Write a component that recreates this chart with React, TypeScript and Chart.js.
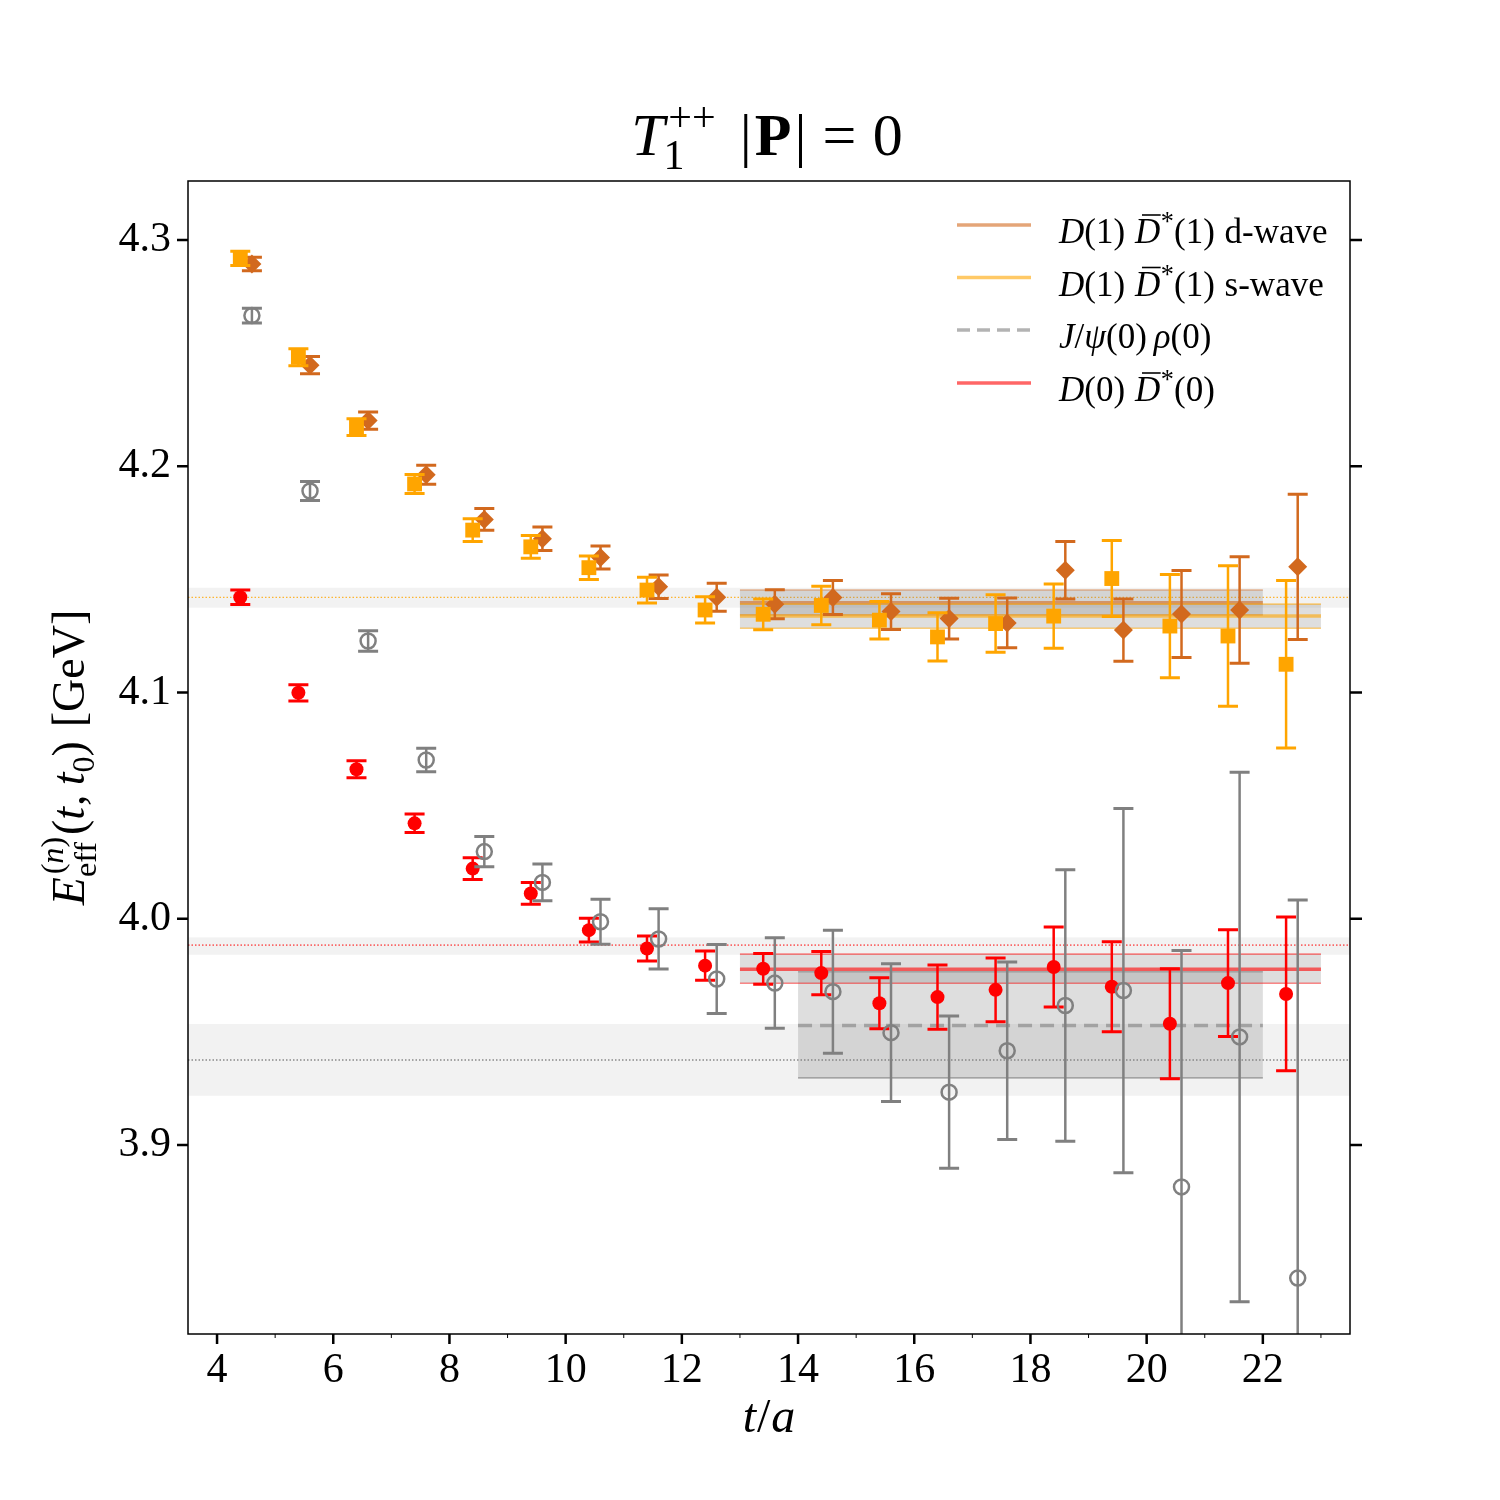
import React, { useEffect, useRef } from "react";
import { Chart, registerables } from "chart.js";

Chart.register(...registerables);

// ---------------- data ----------------
const timeSlices = [4, 5, 6, 7, 8, 9, 10, 11, 12, 13, 14, 15, 16, 17, 18, 19, 20, 21, 22];
const shiftLeft = 0.4;
const shiftRight = 0.6;

// D(1) D*(1) s-wave (orange squares)
const swaveE = [4.2919, 4.2482, 4.2173, 4.1922, 4.1718, 4.1644, 4.1552, 4.1453, 4.1365, 4.1346, 4.1385, 4.132, 4.1246, 4.1305, 4.1338, 4.1504, 4.1294, 4.125, 4.1125];
const swaveErr = [0.0032, 0.0038, 0.0037, 0.0042, 0.005, 0.005, 0.0052, 0.0057, 0.0058, 0.0068, 0.0085, 0.0083, 0.0107, 0.0127, 0.0142, 0.0168, 0.0228, 0.031, 0.037];

// D(1) D*(1) d-wave (chocolate diamonds)
const dwaveE = [4.2894, 4.2447, 4.2202, 4.1963, 4.1765, 4.168, 4.1597, 4.1468, 4.1421, 4.139, 4.142, 4.1358, 4.1327, 4.1308, 4.1541, 4.1276, 4.1347, 4.1365, 4.1556];
const dwaveErr = [0.003, 0.0038, 0.0038, 0.0042, 0.0048, 0.0052, 0.0051, 0.0052, 0.0062, 0.0064, 0.0075, 0.0079, 0.009, 0.011, 0.0127, 0.0138, 0.0192, 0.0235, 0.0321];

// D(0) D*(0) (red filled circles)
const dd0E = [4.1421, 4.0999, 4.0661, 4.0422, 4.0222, 4.0112, 3.995, 3.9869, 3.9793, 3.9779, 3.976, 3.9627, 3.9654, 3.9686, 3.9787, 3.97, 3.9536, 3.9716, 3.9668];
const dd0Err = [0.0032, 0.0036, 0.0038, 0.0041, 0.0048, 0.0048, 0.0052, 0.0055, 0.0065, 0.0068, 0.0096, 0.0113, 0.0142, 0.0141, 0.0177, 0.0199, 0.0243, 0.0236, 0.034];

// J/psi(0) rho(0) (gray open circles)
const jpsiE = [4.2666, 4.1891, 4.1228, 4.0702, 4.0297, 4.0161, 3.9987, 3.9911, 3.9734, 3.9716, 3.9678, 3.9497, 3.9234, 3.9417, 3.9617, 3.9683, 3.8815, 3.9478, 3.8412];
const jpsiErr = [0.0033, 0.0042, 0.0045, 0.0052, 0.0067, 0.0081, 0.0099, 0.0133, 0.0152, 0.02, 0.0272, 0.0304, 0.0336, 0.0392, 0.06, 0.0805, 0.1045, 0.117, 0.1671];

// fits: [tmin, tmax, low, central, high]
const dwaveFit = [13, 22, 4.1343, 4.1397, 4.1453];
const swaveFit = [13, 23, 4.1284, 4.1338, 4.1391];
const jpsiFit = [14, 22, 3.9297, 3.9529, 3.9766];
const dd0Fit = [13, 23, 3.9715, 3.9777, 3.9844];

// non-interacting levels spanning the whole plot: [low, central, high]
const levelOrange = [4.1375, 4.1421, 4.1463];
const levelRed = [3.9841, 3.9884, 3.9918];
const levelGray = [3.9218, 3.9376, 3.9535];

const xTicks = [4, 6, 8, 10, 12, 14, 16, 18, 20, 22];
const xMinorTicks = [5, 7, 9, 11, 13, 15, 17, 19, 21, 23];
const yTicks = [3.9, 4.0, 4.1, 4.2, 4.3];

const xRange = [3.5, 23.5];
const yRange = [3.8165, 4.3261];

// ---------------- colours ----------------
const ORANGE = "#ffa500";
const CHOC = "#d2691e";
const RED = "#ff0000";
const GRAY = "#808080";
const CHOC_A = "rgba(210,105,30,0.6)";
const ORANGE_A = "rgba(255,165,0,0.6)";
const RED_A = "rgba(255,0,0,0.6)";
const GRAY_A = "rgba(128,128,128,0.6)";

const FAMILY = '"Liberation Serif", "DejaVu Serif", serif';

// ---------------- rich text helper ----------------
type Seg = { t: string; f?: "r" | "i" | "b"; s?: number; dy?: number; adv?: boolean; dx?: number; bar?: boolean };

function fontStr(f: string | undefined, size: number) {
  const st = f === "i" ? "italic " : f === "b" ? "bold " : "";
  return `${st}${size}px ${FAMILY}`;
}

function measureRich(ctx: CanvasRenderingContext2D, segs: Seg[], size: number) {
  let w = 0;
  for (const s of segs) {
    ctx.font = fontStr(s.f, size * (s.s ?? 1));
    const m = ctx.measureText(s.t).width;
    if (s.adv !== false) w += m + (s.dx ?? 0) * size;
  }
  return w;
}

function drawRich(ctx: CanvasRenderingContext2D, segs: Seg[], x: number, y: number, size: number, align: "left" | "center") {
  const w = measureRich(ctx, segs, size);
  let cx = align === "center" ? x - w / 2 : x;
  ctx.textAlign = "left";
  ctx.textBaseline = "alphabetic";
  ctx.fillStyle = "#000";
  for (const s of segs) {
    const fs = size * (s.s ?? 1);
    ctx.font = fontStr(s.f, fs);
    const m = ctx.measureText(s.t).width;
    const dx = (s.dx ?? 0) * size;
    const px = cx + dx;
    const py = y - (s.dy ?? 0) * size;
    ctx.fillText(s.t, px, py);
    if (s.bar) {
      ctx.save();
      ctx.strokeStyle = "#000";
      ctx.lineWidth = fs * 0.045;
      ctx.beginPath();
      ctx.moveTo(px + m * 0.28, py - fs * 0.8);
      ctx.lineTo(px + m * 1.02, py - fs * 0.8);
      ctx.stroke();
      ctx.restore();
    }
    if (s.adv !== false) cx += m + dx;
  }
}

const titleSegs: Seg[] = [
  { t: "T", f: "i" },
  { t: "1", s: 0.7, dy: -0.24, adv: false, dx: -0.02 },
  { t: "++", s: 0.7, dy: 0.4, dx: 0.06 },
  { t: "|", dx: 0.4 },
  { t: "P", f: "b", dx: 0.05 },
  { t: "|", dx: 0.05 },
  { t: "=", dx: 0.27 },
  { t: "0", dx: 0.27 },
];

const yLabelSegs: Seg[] = [
  { t: "E", f: "i" },
  { t: "eff", s: 0.7, dy: -0.25, adv: false, dx: 0.0 },
  { t: "(", s: 0.7, dy: 0.45, dx: 0.06 },
  { t: "n", f: "i", s: 0.7, dy: 0.45 },
  { t: ")", s: 0.7, dy: 0.45 },
  { t: "(", dx: 0.04 },
  { t: "t", f: "i" },
  { t: ",", dx: 0.02 },
  { t: "t", f: "i", dx: 0.2 },
  { t: "0", s: 0.7, dy: -0.22 },
  { t: ")" },
  { t: "[GeV]", dx: 0.3 },
];

const xLabelSegs: Seg[] = [
  { t: "t", f: "i" },
  { t: "/", dx: 0.02 },
  { t: "a", f: "i", dx: 0.02 },
];

const legendRows: { segs: Seg[]; color: string; dash: number[] }[] = [
  {
    segs: [
      { t: "D", f: "i" }, { t: "(1)" }, { t: "D", f: "i", bar: true, dx: 0.28 }, { t: "*", s: 0.75, dy: 0.36, dx: 0.02 }, { t: "(1)" }, { t: "d-wave", dx: 0.28 },
    ],
    color: CHOC_A,
    dash: [],
  },
  {
    segs: [
      { t: "D", f: "i" }, { t: "(1)" }, { t: "D", f: "i", bar: true, dx: 0.28 }, { t: "*", s: 0.75, dy: 0.36, dx: 0.02 }, { t: "(1)" }, { t: "s-wave", dx: 0.28 },
    ],
    color: ORANGE_A,
    dash: [],
  },
  {
    segs: [{ t: "J", f: "i" }, { t: "/" }, { t: "ψ", f: "i" }, { t: "(0)" }, { t: "ρ", f: "i", dx: 0.2 }, { t: "(0)" }],
    color: GRAY_A,
    dash: [13, 7],
  },
  {
    segs: [{ t: "D", f: "i" }, { t: "(0)" }, { t: "D", f: "i", bar: true, dx: 0.28 }, { t: "*", s: 0.75, dy: 0.36, dx: 0.02 }, { t: "(0)" }],
    color: RED_A,
    dash: [],
  },
];

// ---------------- plugins ----------------
const errorBarPlugin = {
  id: "errorBars",
  beforeDatasetDraw(chart: any, args: any) {
    const ds = chart.data.datasets[args.index];
    if (!ds.errors) return;
    const { ctx, chartArea: a } = chart;
    const xs = chart.scales.x;
    const ys = chart.scales.y;
    ctx.save();
    ctx.beginPath();
    ctx.rect(a.left, a.top, a.right - a.left, a.bottom - a.top);
    ctx.clip();
    ctx.strokeStyle = ds.errColor;
    ds.data.forEach((p: any, i: number) => {
      const e = ds.errors[i];
      const px = xs.getPixelForValue(p.x);
      const top = ys.getPixelForValue(p.y + e);
      const bot = ys.getPixelForValue(p.y - e);
      ctx.lineWidth = 2.5;
      ctx.beginPath();
      ctx.moveTo(px, top);
      ctx.lineTo(px, bot);
      ctx.stroke();
      ctx.lineWidth = 3;
      ctx.beginPath();
      ctx.moveTo(px - 10, top);
      ctx.lineTo(px + 10, top);
      ctx.moveTo(px - 10, bot);
      ctx.lineTo(px + 10, bot);
      ctx.stroke();
    });
    ctx.restore();
  },
};

function hLine(ctx: CanvasRenderingContext2D, x0: number, x1: number, y: number, color: string, width: number, dash: number[]) {
  ctx.save();
  ctx.strokeStyle = color;
  ctx.lineWidth = width;
  ctx.setLineDash(dash);
  ctx.beginPath();
  ctx.moveTo(x0, y);
  ctx.lineTo(x1, y);
  ctx.stroke();
  ctx.restore();
}

const bandsPlugin = {
  id: "bands",
  beforeDatasetsDraw(chart: any) {
    const { ctx, chartArea: a } = chart;
    const xs = chart.scales.x;
    const ys = chart.scales.y;
    ctx.save();
    ctx.beginPath();
    ctx.rect(a.left, a.top, a.right - a.left, a.bottom - a.top);
    ctx.clip();
    const levels: [number[], string][] = [
      [levelOrange, ORANGE],
      [levelRed, RED],
      [levelGray, "#555"],
    ];
    for (const [lv] of levels) {
      const yt = ys.getPixelForValue(lv[2]);
      const yb = ys.getPixelForValue(lv[0]);
      ctx.fillStyle = "rgba(128,128,128,0.1)";
      ctx.fillRect(a.left, yt, a.right - a.left, yb - yt);
    }
    for (const [lv, col] of levels) {
      hLine(ctx, a.left, a.right, ys.getPixelForValue(lv[1]), col, 1, [1.5, 2]);
    }
    const fits: [number[], string, string, number[]][] = [
      [dwaveFit, CHOC_A, "rgba(210,105,30,0.45)", []],
      [swaveFit, ORANGE_A, "rgba(255,165,0,0.5)", []],
      [jpsiFit, "rgba(128,128,128,0.6)", "rgba(128,128,128,0.6)", [14, 8]],
      [dd0Fit, RED_A, "rgba(255,0,0,0.45)", []],
    ];
    for (const [f, col, edge, dash] of fits) {
      const x0 = xs.getPixelForValue(f[0]);
      const x1 = xs.getPixelForValue(f[1]);
      const yt = ys.getPixelForValue(f[4]);
      const yb = ys.getPixelForValue(f[2]);
      ctx.fillStyle = "rgba(128,128,128,0.26)";
      ctx.fillRect(x0, yt, x1 - x0, yb - yt);
      hLine(ctx, x0, x1, yt, edge, 1.6, []);
      hLine(ctx, x0, x1, yb, edge, 1.6, []);
      hLine(ctx, x0, x1, ys.getPixelForValue(f[3]), col, 3.5, dash);
    }
    ctx.restore();
  },
};

const framePlugin = {
  id: "frame",
  beforeDraw(chart: any) {
    const { ctx, width, height } = chart;
    ctx.save();
    ctx.fillStyle = "#fff";
    ctx.fillRect(0, 0, width, height);
    ctx.restore();
  },
  afterDatasetsDraw(chart: any) {
    const { ctx, chartArea: a } = chart;
    const xs = chart.scales.x;
    const ys = chart.scales.y;
    ctx.save();
    ctx.strokeStyle = "#000";
    ctx.lineWidth = 1.5;
    ctx.strokeRect(a.left, a.top, a.right - a.left, a.bottom - a.top);
    ctx.lineWidth = 2.5;
    ctx.beginPath();
    for (const v of xTicks) {
      const px = xs.getPixelForValue(v);
      ctx.moveTo(px, a.bottom);
      ctx.lineTo(px, a.bottom + 10);
    }
    ctx.stroke();
    ctx.lineWidth = 1;
    ctx.beginPath();
    for (const v of xMinorTicks) {
      const px = xs.getPixelForValue(v);
      ctx.moveTo(px, a.bottom);
      ctx.lineTo(px, a.bottom + 4);
    }
    ctx.stroke();
    ctx.lineWidth = 2.5;
    ctx.beginPath();
    for (const v of yTicks) {
      const py = ys.getPixelForValue(v);
      ctx.moveTo(a.left - 11, py);
      ctx.lineTo(a.left, py);
      ctx.moveTo(a.right, py);
      ctx.lineTo(a.right + 12, py);
    }
    ctx.stroke();
    ctx.restore();
  },
  afterDraw(chart: any) {
    const { ctx, chartArea: a } = chart;
    const cx = (a.left + a.right) / 2;
    ctx.save();
    drawRich(ctx, titleSegs, cx - 2, 155, 60, "center");
    drawRich(ctx, xLabelSegs, cx, 1432, 48, "center");
    ctx.save();
    ctx.translate(84, (a.top + a.bottom) / 2);
    ctx.rotate(-Math.PI / 2);
    drawRich(ctx, yLabelSegs, 0, 0, 46, "center");
    ctx.restore();
    const rowYs = [225, 277.5, 330, 383];
    legendRows.forEach((row, i) => {
      const ly = rowYs[i];
      hLine(ctx, 957, 1031, ly, row.color, 3.5, row.dash);
      drawRich(ctx, row.segs, 1059, ly + 18, 35, "left");
    });
    ctx.restore();
  },
};

function makePoints(values: number[], shift: number) {
  return values.map((v, i) => ({ x: timeSlices[i] + shift, y: v }));
}

export default function App() {
  const ref = useRef<HTMLCanvasElement | null>(null);
  useEffect(() => {
    if (!ref.current) return;
    const chart = new Chart(ref.current, {
      type: "scatter",
      data: {
        datasets: [
          {
            label: "J/psi(0) rho(0)",
            data: makePoints(jpsiE, shiftRight),
            pointStyle: "circle",
            pointRadius: 7.5,
            pointBackgroundColor: "rgba(0,0,0,0)",
            pointBorderColor: GRAY,
            pointBorderWidth: 2.5,
            errors: jpsiErr,
            errColor: GRAY,
          } as any,
          {
            label: "D(0) D*(0)",
            data: makePoints(dd0E, shiftLeft),
            pointStyle: "circle",
            pointRadius: 7,
            pointBackgroundColor: RED,
            pointBorderWidth: 0,
            errors: dd0Err,
            errColor: RED,
          } as any,
          {
            label: "D(1) D*(1) s-wave",
            data: makePoints(swaveE, shiftLeft),
            pointStyle: "rect",
            pointRadius: 10.5,
            pointBackgroundColor: ORANGE,
            pointBorderWidth: 0,
            errors: swaveErr,
            errColor: ORANGE,
          } as any,
          {
            label: "D(1) D*(1) d-wave",
            data: makePoints(dwaveE, shiftRight),
            pointStyle: "rectRot",
            pointRadius: 9.5,
            pointBackgroundColor: CHOC,
            pointBorderWidth: 0,
            errors: dwaveErr,
            errColor: CHOC,
          } as any,
        ],
      },
      options: {
        animation: false,
        responsive: false,
        devicePixelRatio: 1,
        events: [],
        layout: { padding: { top: 181, right: 150, left: 0, bottom: 0 } },
        plugins: {
          legend: { display: false },
          title: { display: false },
          tooltip: { enabled: false },
        },
        scales: {
          x: {
            type: "linear",
            min: xRange[0],
            max: xRange[1],
            grid: { display: false, drawTicks: false },
            border: { display: false },
            afterBuildTicks: (s: any) => {
              s.ticks = xTicks.map((v) => ({ value: v }));
            },
            afterFit: (s: any) => {
              s.height = 166;
            },
            ticks: {
              autoSkip: false,
              maxRotation: 0,
              padding: 12,
              color: "#000",
              font: { family: FAMILY, size: 42 },
              callback: (v: any) => String(v),
            },
          },
          y: {
            type: "linear",
            min: yRange[0],
            max: yRange[1],
            grid: { display: false, drawTicks: false },
            border: { display: false },
            afterBuildTicks: (s: any) => {
              s.ticks = yTicks.map((v) => ({ value: v }));
            },
            afterFit: (s: any) => {
              s.width = 188;
            },
            ticks: {
              padding: 17,
              color: "#000",
              font: { family: FAMILY, size: 42 },
              callback: (v: any) => Number(v).toFixed(1),
            },
          },
        },
      } as any,
      plugins: [framePlugin, bandsPlugin, errorBarPlugin],
    });
    return () => chart.destroy();
  }, []);
  return (
    <div style={{ position: "absolute", left: 0, top: 0, width: 1500, height: 1500, background: "#fff" }}>
      <canvas ref={ref} width={1500} height={1500} style={{ width: 1500, height: 1500, display: "block" }} />
    </div>
  );
}
